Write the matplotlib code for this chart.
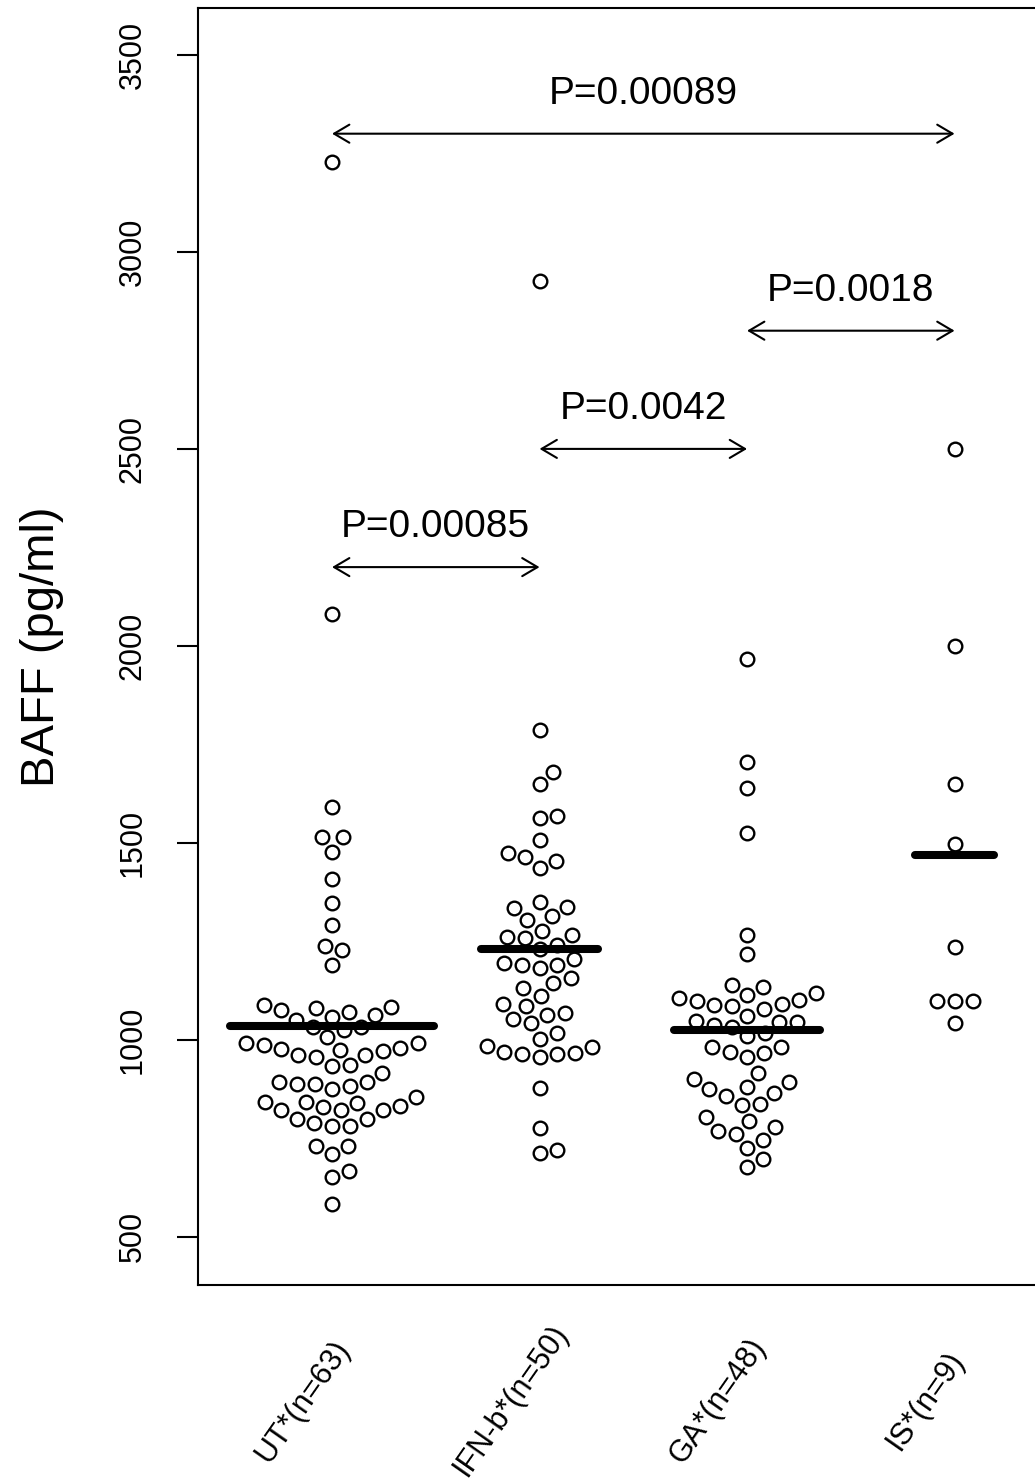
import numpy as np
import matplotlib
matplotlib.use("Agg")
import matplotlib.pyplot as plt
import matplotlib.transforms as mtransforms

# ---------------- data ----------------
categories = ["UT", "IFN-b", "GA", "IS"]
tick_labels = ["UT*(n=63)", "IFN-b*(n=50)", "GA*(n=48)", "IS*(n=9)"]

ut_values = [3228, 2081, 1591, 1516, 1515, 1478, 1408, 1347, 1292, 1239, 1227, 1189,
             1089, 1076, 1080, 1059, 1072, 1063, 1083, 1051, 1034, 1025, 1034, 1007,
             993, 987, 975, 962, 956, 976, 962, 973, 979, 993,
             934, 937, 917, 892, 888, 888, 875, 883, 892,
             843, 822, 843, 831, 822, 839, 799, 790, 782, 782, 799, 821, 832, 855,
             731, 711, 731, 653, 668, 584]

ifn_values = [2926, 1787, 1679, 1650, 1563, 1569, 1508, 1464, 1437, 1455, 1475,
              1337, 1351, 1334, 1315, 1305, 1266, 1277, 1258, 1262, 1241, 1230,
              1205, 1190, 1182, 1196, 1190, 1145, 1157, 1131, 1112,
              1086, 1091, 1068, 1053, 1063, 1042, 1017, 1002,
              983, 968, 964, 956, 964, 970, 985, 877, 776, 712, 721]

ga_values = [1966, 1706, 1640, 1525, 1266, 1218,
             1140, 1135, 1114, 1106, 1100, 1089, 1086, 1078, 1091, 1102, 1119,
             1061, 1049, 1038, 1034, 1046, 1046, 1010, 1017,
             981, 968, 956, 970, 983, 917, 900, 892, 875, 865, 880,
             838, 835, 858, 793, 780, 804, 746, 761, 770, 725, 698, 678]

is_values = [2500, 2000, 1650, 1497, 1237, 1100, 1100, 1100, 1042]

group_values = [ut_values, ifn_values, ga_values, is_values]

comparisons = [(1, 4), (3, 4), (2, 3), (1, 2)]
p_labels = ["P=0.00089", "P=0.0018", "P=0.0042", "P=0.00085"]
arrow_heights = [3300, 2800, 2500, 2200]

y_ticks = [500, 1000, 1500, 2000, 2500, 3000, 3500]
y_label = "BAFF (pg/ml)"

# ---------------- style ----------------
FONT = ["Liberation Sans", "DejaVu Sans"]
plt.rcParams["font.family"] = FONT
mean_half_widths = [0.49, 0.28, 0.35, 0.19]   # half length of mean bars (x units)
swarm_d_px = 18.0                               # point spacing in the swarm (pixels)

W, H = 1035, 1483
fig = plt.figure(figsize=(W / 100, H / 100), dpi=100)
left_px, right_px, top_px, bottom_px = 198, 1088.6, 8, 1285
ax = fig.add_axes([left_px / W, 1 - bottom_px / H,
                   (right_px - left_px) / W, (bottom_px - top_px) / H])
ax.set_xlim(0.354, 4.646)
ax.set_ylim(378, 3619)


def swarm_offsets(values, d_px):
    vals = np.asarray(values, float)
    ypx = ax.transData.transform(np.column_stack([np.ones_like(vals), vals]))[:, 1]
    xs = ypx / d_px
    order = np.argsort(xs, kind="stable")
    placed = []
    result = np.zeros(len(vals))
    for idx in order:
        xi = xs[idx]
        pre = [p for p in placed if abs(xi - p[0]) < 1]
        if pre:
            pre.sort(key=lambda p: abs(xi - p[0]))
            offs = [np.sqrt(max(0.0, 1 - (xi - p[0]) ** 2)) for p in pre]
            cands = [0.0] + [p[1] + o for p, o in zip(pre, offs)] + \
                    [p[1] - o for p, o in zip(pre, offs)]
            best, bestabs = 0.0, np.inf
            for c in cands:
                bad = any((xi - p[0]) ** 2 + (c - p[1]) ** 2 < 0.999 for p in pre)
                if not bad and abs(c) < bestabs:
                    best, bestabs = c, abs(c)
            off = best
        else:
            off = 0.0
        placed.append((xi, off))
        result[idx] = off * d_px
    return result


px_per_x = ax.transData.transform((1, 0))[0] - ax.transData.transform((0, 0))[0]

for i, vals in enumerate(group_values):
    pos = i + 1
    offs = swarm_offsets(vals, swarm_d_px) / px_per_x
    ax.plot(pos + offs, vals, linestyle="none", marker="o", ms=9.8,
            mfc="white", mec="black", mew=1.7, zorder=3)
    m = float(np.mean(vals))
    hw = mean_half_widths[i]
    ax.plot([pos - hw, pos + hw], [m, m], color="black", lw=5.8,
            solid_capstyle="round", zorder=4)

# comparison arrows and p-values
for (a, b), lab, h in zip(comparisons, p_labels, arrow_heights):
    ax.annotate("", xy=(b, h), xytext=(a, h),
                arrowprops=dict(arrowstyle="<->,head_length=11,head_width=6.5",
                                mutation_scale=1, lw=1.5, color="black",
                                shrinkA=0, shrinkB=0), zorder=5)
    ax.text((a + b) / 2, h + 102, lab, ha="center", va="center",
            fontsize=28, color="black")

# axes styling
for sp in ax.spines.values():
    sp.set_linewidth(1.5)
    sp.set_color("black")

ax.set_xticks([])
ax.set_yticks(y_ticks)
ax.set_yticklabels([str(t) for t in y_ticks])
ax.tick_params(axis="y", length=15, width=1.5, pad=21, labelsize=22, direction="out")
for lbl in ax.get_yticklabels():
    lbl.set_rotation(90)
    lbl.set_va("center")
    lbl.set_ha("right")

ax.set_ylabel(y_label, fontsize=34)
ax.yaxis.set_label_coords((42 - left_px) / (right_px - left_px), 0.5)
ax.yaxis.label.set_va("center")

# rotated category labels, centred below each group (as R text(srt=...))
trans = mtransforms.blended_transform_factory(ax.transData, ax.transAxes)
lab_y = (bottom_px - 1401) / (bottom_px - top_px)
for i, lab in enumerate(tick_labels):
    ax.text(i + 1 - 29 / px_per_x, lab_y, lab, transform=trans, rotation=55,
            rotation_mode="anchor", ha="center", va="center", fontsize=22,
            clip_on=False)

fig.savefig("out.png", dpi=100)
